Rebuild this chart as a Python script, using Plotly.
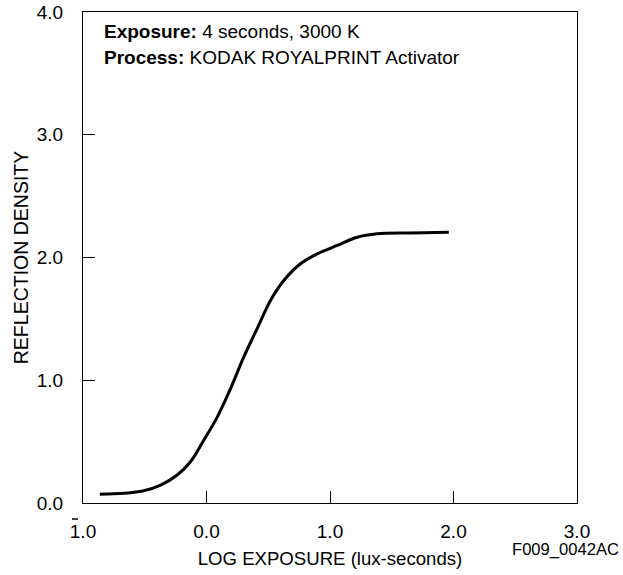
import plotly.graph_objects as go

# Characteristic curve data
log_exposure = [-0.864, -0.670, -0.508, -0.372, -0.237, -0.130, -0.022, 0.087, 0.194,
                0.302, 0.41, 0.518, 0.626, 0.761, 0.896, 1.058, 1.22, 1.382, 1.652, 1.962]
density = [0.071, 0.079, 0.10, 0.146, 0.228, 0.336, 0.512, 0.70, 0.93,
           1.19, 1.42, 1.65, 1.813, 1.949, 2.03, 2.098, 2.165, 2.193, 2.20, 2.206]

x_tickvals = [-1, 0, 1, 2, 3]
x_ticktext = ["1.0", "0.0", "1.0", "2.0", "3.0"]
y_tickvals = [0, 1, 2, 3, 4]
y_ticktext = ["0.0", "1.0", "2.0", "3.0", "4.0"]

FONT = "Liberation Sans, Arial, sans-serif"

fig = go.Figure()
fig.add_trace(go.Scatter(
    x=log_exposure, y=density, mode="lines",
    line=dict(color="black", width=3, shape="spline", smoothing=1.0),
    showlegend=False, hoverinfo="skip"))

axis_common = dict(ticks="inside", ticklen=12, tickwidth=1, tickcolor="black",
                   showline=True, linecolor="black", linewidth=1, mirror=True,
                   showgrid=False, zeroline=False, automargin=False,
                   ticklabeloverflow="allow", tickfont=dict(size=19))

fig.update_layout(
    width=623, height=575,
    margin=dict(l=83, r=46, t=12, b=72),
    paper_bgcolor="white", plot_bgcolor="white",
    font=dict(family=FONT, size=19, color="black"),
    xaxis=dict(range=[-1, 3], tickvals=x_tickvals, ticktext=x_ticktext,
               ticklabelstandoff=11,
               title=dict(text="LOG EXPOSURE (lux-seconds)", font=dict(size=18.6), standoff=11),
               **axis_common),
    yaxis=dict(range=[0, 4], tickvals=y_tickvals, ticktext=y_ticktext,
               ticklabelstandoff=15,
               title=dict(text="REFLECTION DENSITY", font=dict(size=19.5), standoff=2),
               **axis_common),
)

# overbar on the negative characteristic "1" of the -1.0 label
fig.add_shape(type="line", xref="paper", yref="paper", x0=-0.0223, x1=-0.0101,
              y0=-0.0326, y1=-0.0326, line=dict(color="black", width=1.5))

fig.add_annotation(x=0.038, y=0.960, xref="paper", yref="paper", xanchor="left", yanchor="middle",
                   text="<b>Exposure:</b> 4 seconds, 3000 K", showarrow=False,
                   font=dict(size=19))
fig.add_annotation(x=0.038, y=0.908, xref="paper", yref="paper", xanchor="left", yanchor="middle",
                   text="<b>Process:</b> KODAK ROYALPRINT Activator", showarrow=False,
                   font=dict(size=19))
fig.add_annotation(x=1.089, y=-0.0957, xref="paper", yref="paper", xanchor="right", yanchor="middle",
                   text="F009_0042AC", showarrow=False, font=dict(size=16.6))

fig.write_html("out.html", config={"displayModeBar": False, "staticPlot": True},
               post_script="document.body.style.margin='0';")
